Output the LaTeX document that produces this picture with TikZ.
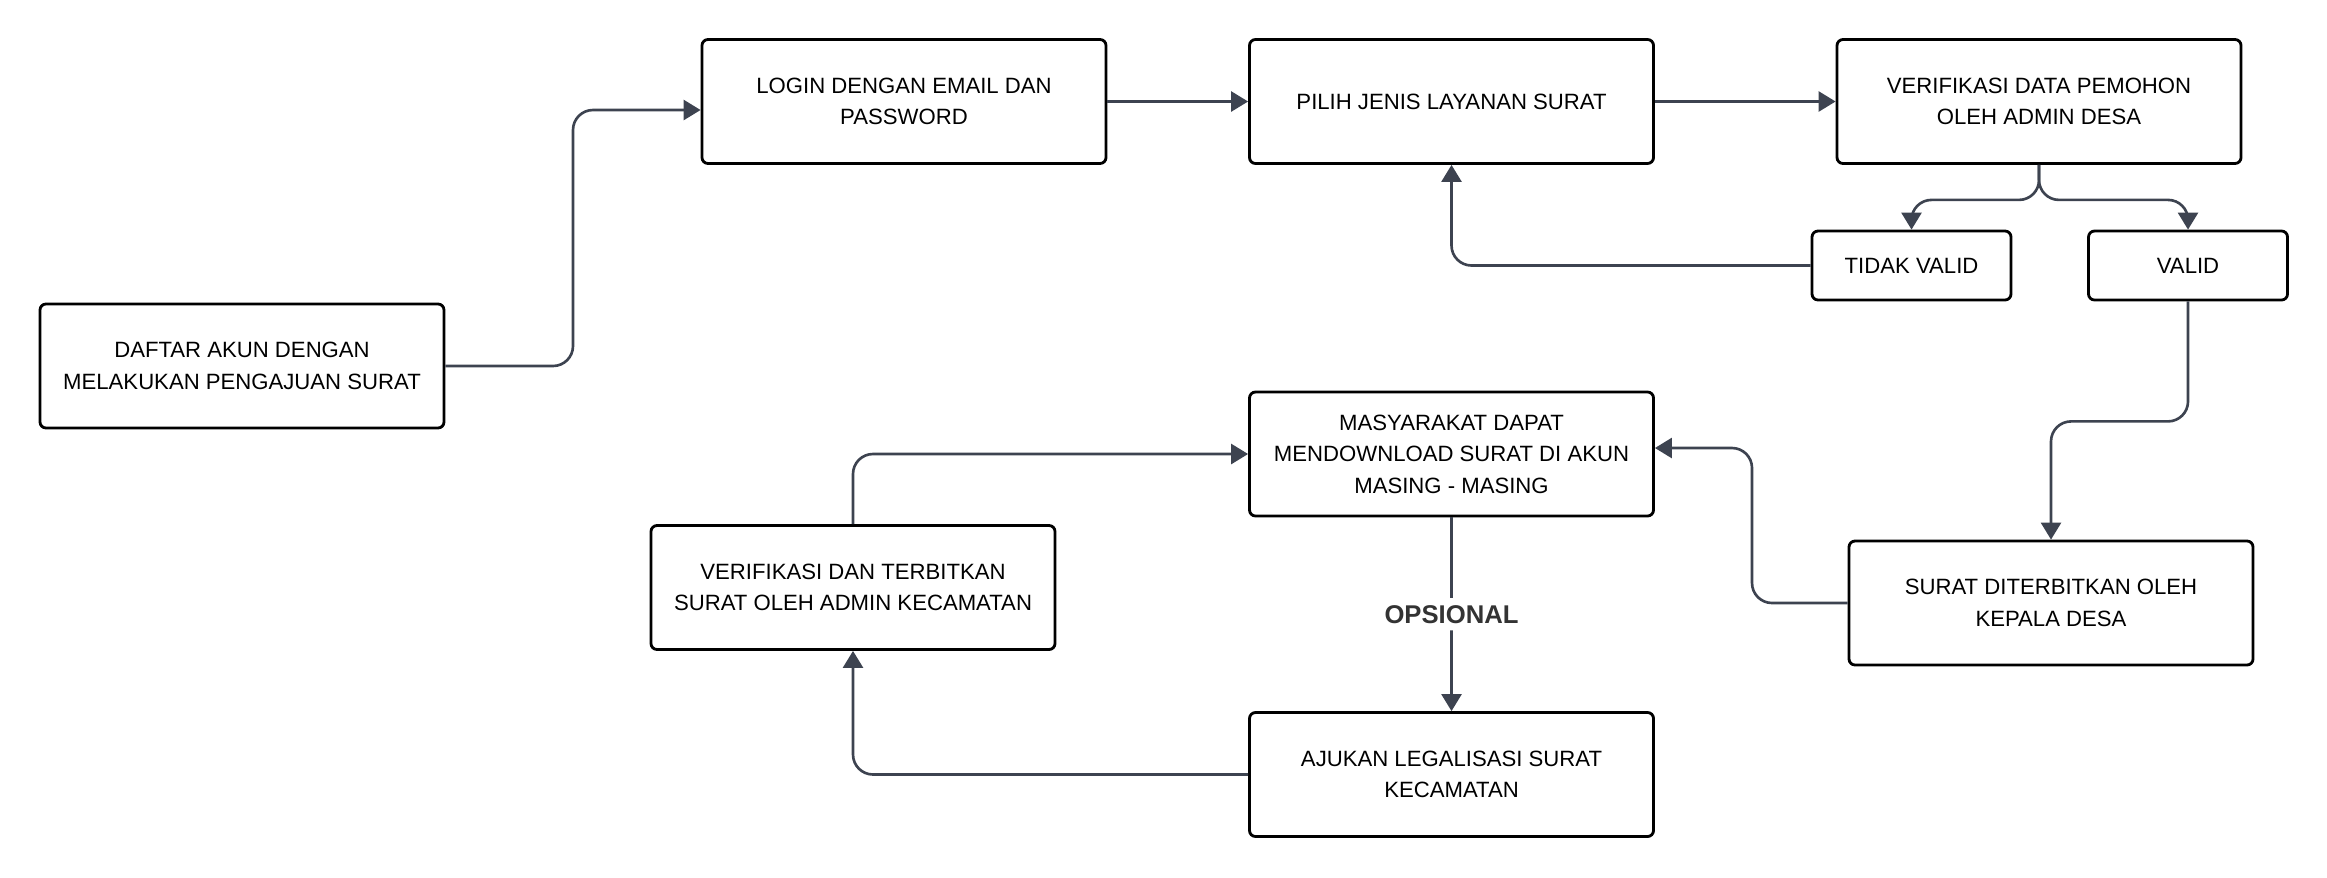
\documentclass[tikz,border=0pt]{standalone}
\usepackage{fontspec}
\setmainfont{Liberation Sans}
\usetikzlibrary{arrows.meta,calc}
\definecolor{flowline}{RGB}{61,67,80}
\definecolor{labelgray}{RGB}{51,51,51}
\tikzset{
  stepbox/.style={draw=black,line width=0.8pt,rounded corners=0.06cm,minimum width=4.04cm,minimum height=1.24cm,align=center,font=\fontsize{6.3}{9}\selectfont},
  smallbox/.style={stepbox,minimum width=1.99cm,minimum height=0.69cm},
  flow/.style={draw=flowline,line width=0.75pt,rounded corners=0.2cm,-{Triangle[length=0.17cm,width=0.2cm]}},
  optlabel/.style={fill=white,inner sep=2pt,text=labelgray,font=\fontsize{7.3}{9}\selectfont\bfseries}
}

\begin{document}
\begin{tikzpicture}
    \useasboundingbox (0,0) rectangle (23.27,-8.77); % Keeps the margins...

    \node[stepbox] (daftar) at (2.42,-3.66) {DAFTAR AKUN DENGAN\\MELAKUKAN PENGAJUAN SURAT};
    \node[stepbox] (login) at (9.04,-1.015) {LOGIN DENGAN EMAIL DAN\\PASSWORD};
    \node[stepbox] (pilih) at (14.515,-1.015) {PILIH JENIS LAYANAN SURAT};
    \node[stepbox] (verif) at (20.39,-1.015) {VERIFIKASI DATA PEMOHON\\OLEH ADMIN DESA};
    \node[smallbox] (tidak) at (19.115,-2.655) {TIDAK VALID};
    \node[smallbox] (valid) at (21.88,-2.655) {VALID};
    \node[stepbox] (masy) at (14.515,-4.54) {MASYARAKAT DAPAT\\MENDOWNLOAD SURAT DI AKUN\\MASING - MASING};
    \node[stepbox] (verkec) at (8.53,-5.875) {VERIFIKASI DAN TERBITKAN\\SURAT OLEH ADMIN KECAMATAN};
    \node[stepbox] (suratdit) at (20.51,-6.03) {SURAT DITERBITKAN OLEH\\KEPALA DESA};
    \node[stepbox] (ajukan) at (14.515,-7.745) {AJUKAN LEGALISASI SURAT\\KECAMATAN};

    \coordinate (bendA) at (5.73,-1.10);
    \coordinate (split) at ($(verif.south)+(0,-0.35)$);
    \coordinate (bendB) at (17.52,-4.48);

    \draw[flow] (daftar.east) -| (bendA) -- (bendA -| login.west);
    \draw[flow] (login.east) -- (pilih.west);
    \draw[flow] (pilih.east) -- (verif.west);
    \draw[flow] (verif.south) -- (split) -| (tidak.north);
    \draw[flow] (verif.south) -- (split) -| (valid.north);
    \draw[flow] (tidak.west) -| (pilih.south);
    \draw[flow] (valid.south) -- ++(0,-1.2) -| (suratdit.north);
    \draw[flow] (suratdit.west) -| (bendB) -- (bendB -| masy.east);
    \draw[flow] (masy.south) -- node[optlabel] (opsional) {OPSIONAL} (ajukan.north);
    \draw[flow] (ajukan.west) -| (verkec.south);
    \draw[flow] (verkec.north) |- (masy.west);
\end{tikzpicture}
\end{document}
